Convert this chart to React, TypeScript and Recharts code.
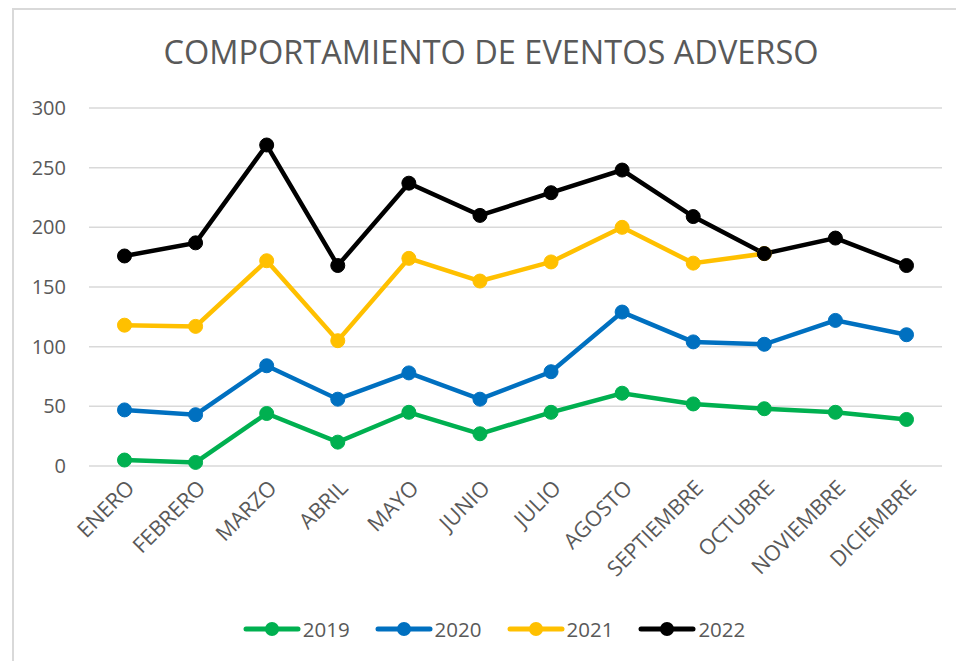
import { LineChart, Line, XAxis, YAxis, CartesianGrid, Legend } from 'recharts';

const MONTHS = [
  'ENERO', 'FEBRERO', 'MARZO', 'ABRIL', 'MAYO', 'JUNIO',
  'JULIO', 'AGOSTO', 'SEPTIEMBRE', 'OCTUBRE', 'NOVIEMBRE', 'DICIEMBRE',
];
const Y2019 = [5, 3, 44, 20, 45, 27, 45, 61, 52, 48, 45, 39];
const Y2020 = [47, 43, 84, 56, 78, 56, 79, 129, 104, 102, 122, 110];
const Y2021: (number | null)[] = [118, 117, 172, 105, 174, 155, 171, 200, 170, 178, null, null];
const Y2022 = [176, 187, 269, 168, 237, 210, 229, 248, 209, 178, 191, 168];
const Y_TICKS = [0, 50, 100, 150, 200, 250, 300];

const SERIES = [
  { key: '2019', color: '#00b050' },
  { key: '2020', color: '#0070c0' },
  { key: '2021', color: '#ffc000' },
  { key: '2022', color: '#000000' },
];

const data = MONTHS.map((m, i) => ({
  month: m,
  '2019': Y2019[i],
  '2020': Y2020[i],
  '2021': Y2021[i],
  '2022': Y2022[i],
}));

const FONT = '"Open Sans", sans-serif';
const TEXT = '#595959';

function MonthTick({ x, y, payload }: any) {
  return (
    <g transform={`translate(${x + 6},${y + 16})`}>
      <text
        transform="rotate(-45)"
        textAnchor="end"
        dy="0.35em"
        fill={TEXT}
        fontSize={21.5}
        fontFamily={FONT}
      >
        {payload.value}
      </text>
    </g>
  );
}

function LegendBox() {
  return (
    <div style={{ display: 'flex', justifyContent: 'center', gap: 25, fontFamily: FONT, fontSize: 20.5, color: TEXT, paddingLeft: 46 }}>
      {SERIES.map(s => (
        <div key={s.key} style={{ display: 'flex', alignItems: 'center' }}>
          <svg width={58} height={18}>
            <line x1={3} y1={9} x2={55} y2={9} stroke={s.color} strokeWidth={5} strokeLinecap="round" />
            <circle cx={29} cy={9} r={7} fill={s.color} />
          </svg>
          <span style={{ marginLeft: 2 }}>{s.key}</span>
        </div>
      ))}
    </div>
  );
}

export default function App() {
  return (
    <div style={{ position: 'absolute', left: 0, top: 0, width: 956, height: 661, background: '#fff', overflow: 'hidden' }}>
      <div
        style={{
          position: 'absolute', left: 12, top: 8, width: 960, height: 680,
          border: '2px solid #d9d9d9', boxSizing: 'border-box',
        }}
      />
      <div
        style={{
          position: 'absolute', left: 0, top: 30, width: 982, textAlign: 'center',
          fontFamily: FONT, fontSize: 32.5, color: TEXT, lineHeight: '44px',
        }}
      >
        COMPORTAMIENTO DE EVENTOS ADVERSO
      </div>
      <div style={{ position: 'absolute', left: 0, top: 0 }}>
        <LineChart width={956} height={661} data={data} margin={{ top: 108, right: 14, bottom: 18, left: 0 }}>
          <CartesianGrid vertical={false} stroke="#d9d9d9" strokeWidth={1.5} />
          <XAxis
            dataKey="month"
            axisLine={false}
            tickLine={false}
            tickSize={0}
            interval={0}
            height={149}
            padding={{ left: 35.5, right: 35.5 }}
            tick={<MonthTick />}
          />
          <YAxis
            domain={[0, 300]}
            ticks={Y_TICKS}
            axisLine={false}
            tickLine={false}
            tickSize={0}
            tickMargin={23}
            width={89}
            tick={{ fill: TEXT, fontSize: 20, fontFamily: FONT }}
          />
          {SERIES.map(s => (
            <Line
              key={s.key}
              dataKey={s.key}
              stroke={s.color}
              strokeWidth={4.5}
              dot={{ r: 7, fill: s.color, stroke: s.color, strokeWidth: 1 }}
              activeDot={false}
              isAnimationActive={false}
            />
          ))}
          <Legend verticalAlign="bottom" height={28} content={<LegendBox />} />
        </LineChart>
      </div>
    </div>
  );
}
